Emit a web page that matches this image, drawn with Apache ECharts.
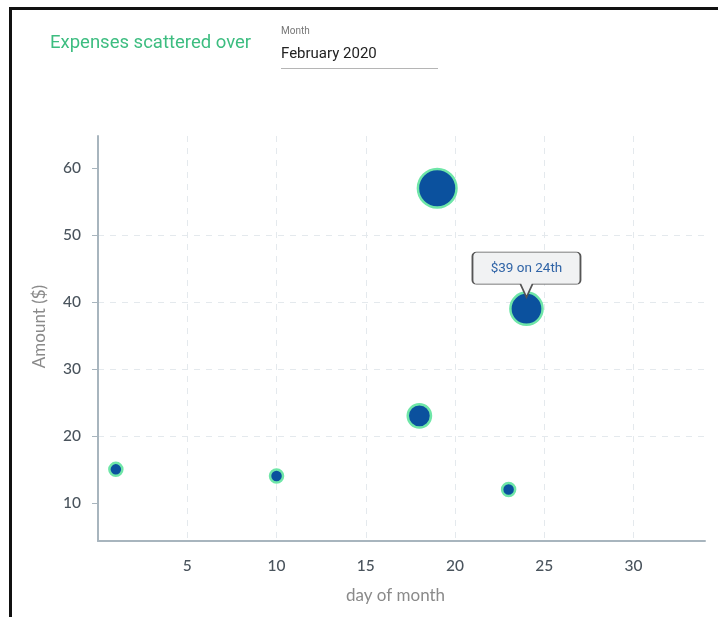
<!DOCTYPE html>
<html>
<head>
<meta charset="utf-8">
<script src="https://cdn.jsdelivr.net/npm/echarts@6/dist/echarts.min.js"></script>
<style>
  html, body { margin: 0; padding: 0; background: #fff; }
  #wrap { position: relative; width: 718px; height: 617px; }
  #chart { width: 718px; height: 617px; }
  .frame {
    position: absolute; left: 9px; top: 7px; right: 0; bottom: 0;
    border-top: 3px solid #111; border-left: 3px solid #111;
    pointer-events: none;
  }
</style>
</head>
<body>
<div id="wrap">
  <div id="chart"></div>
  <div class="frame"></div>
</div>
<script>
// expenses in Feb 2020
const days = [1, 10, 18, 19, 23, 24]
const amounts = [15, 14, 23, 57, 12, 39]
// relative bubble weight per day
const weights = [1, 1, 2.6, 5, 1, 4]
const yTicks = [10, 20, 30, 40, 50, 60]
const month = "February 2020"
const tipIndex = 5

const points = days.map((d, i) => [d, amounts[i], weights[i]])

let myChart = echarts.init(document.getElementById("chart"))

function suffix(n) {
  if (n % 10 == 1 && n != 11) return "st"
  if (n % 10 == 2 && n != 12) return "nd"
  if (n % 10 == 3 && n != 13) return "rd"
  return "th"
}

const axisColor = "#a8b5be"
const gridLine = { show: true, showMinLine: false, showMaxLine: false,
  lineStyle: { color: "#e4e9ed", type: [6, 6], width: 1 } }

myChart.setOption({
  animation: false,
  title: {
    text: "Expenses scattered over",
    left: 45,
    top: 29,
    textStyle: { color: "#3dbd80", fontSize: 18.5, fontWeight: "normal", fontFamily: "Roboto" },
  },
  graphic: [
    { type: "text", left: 281, top: 26,
      style: { text: "Month", fill: "#777", font: "10px Roboto" } },
    { type: "text", left: 281, top: 47,
      style: { text: month, fill: "#222", font: "15px Roboto" } },
    { type: "rect", left: 281, top: 68,
      shape: { width: 157, height: 1 }, style: { fill: "#b5b5b5" } },
  ],
  grid: { left: 98, right: 13, top: 136, bottom: 76 },
  xAxis: {
    type: "value",
    min: 0,
    max: 34,
    interval: 5,
    name: "day of month",
    nameLocation: "middle",
    nameGap: 46,
    nameTextStyle: { color: "#8a8a8a", fontSize: 17, fontFamily: "Lato", padding: [0, 12, 0, 0] },
    axisLine: { show: true, lineStyle: { color: axisColor, width: 2 } },
    axisTick: { show: false },
    axisLabel: { showMinLabel: false, showMaxLabel: false, margin: 17,
      color: "#4a545d", fontSize: 15.5, fontWeight: 500, fontFamily: "Lato" },
    splitLine: gridLine,
  },
  yAxis: {
    type: "value",
    min: 4.3,
    max: 64.8,
    name: "Amount ($)",
    nameLocation: "middle",
    nameGap: 50,
    nameTextStyle: { color: "#8a8a8a", fontSize: 17, fontFamily: "Lato", padding: [0, 0, 0, 24] },
    axisLine: { show: true, lineStyle: { color: axisColor, width: 2 } },
    axisTick: { show: true, length: 6, customValues: yTicks, lineStyle: { color: axisColor } },
    axisLabel: { customValues: yTicks, margin: 17, color: "#4a545d", fontSize: 15.5, fontWeight: 500, fontFamily: "Lato" },
    splitLine: gridLine,
  },
  series: [
    {
      type: "scatter",
      data: points,
      symbolSize: (v) => 13 + (v[2] - 1) * 6.4,
      itemStyle: { color: "#0b519e", borderColor: "#6fe6a8", borderWidth: 2.5, opacity: 1 },
      markPoint: {
        symbol: "path://M4,0 H104 A4,4 0 0 1 108,4 V28 A4,4 0 0 1 104,32 H60 L54,45 L48,32 H4 A4,4 0 0 1 0,28 V4 A4,4 0 0 1 4,0 Z",
        symbolSize: [108, 45],
        symbolOffset: [0, -34],
        itemStyle: { color: "#f1f2f3", borderColor: "#555", borderWidth: 1.2 },
        label: {
          show: true,
          position: "inside",
          offset: [0, -6],
          color: "#2f63a6",
          fontSize: 13.5,
          fontFamily: "Roboto",
          formatter: (p) => "$" + p.data.coord[1] + " on " + p.data.coord[0] + suffix(p.data.coord[0]),
        },
        data: [{ coord: [days[tipIndex], amounts[tipIndex]] }],
      },
    },
  ],
})

window.addEventListener("resize", () => {
  setTimeout(() => {
    myChart.resize()
  }, 500)
})
</script>
</body>
</html>
